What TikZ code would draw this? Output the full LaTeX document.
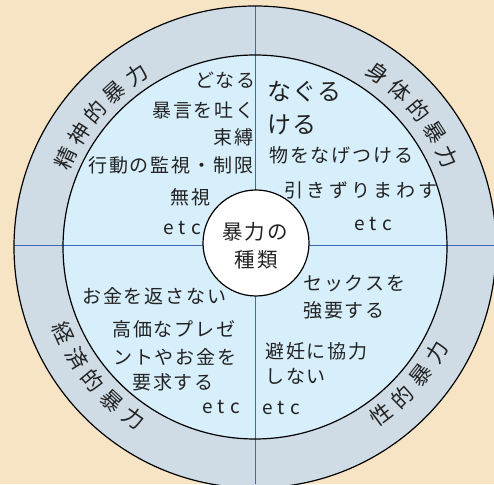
\documentclass[tikz,border=0pt]{standalone}
\usepackage{fontspec}
\newfontfamily\jpa{Noto Sans CJK JP}[LetterSpace=10]
\newfontfamily\jpc{Noto Sans CJK JP}[LetterSpace=18]
\newfontfamily\jpb{Noto Sans CJK JP}[LetterSpace=5]
\newfontfamily\jpe{Noto Sans CJK JP}[LetterSpace=28]
\newfontfamily\jpr{Noto Sans CJK JP}
\definecolor{bgc}{HTML}{F7E4C4}
\definecolor{ringc}{HTML}{CFDCE5}
\definecolor{innerc}{HTML}{D7EEFB}
\definecolor{bluel}{HTML}{3C68B8}
\definecolor{ink}{HTML}{222222}
\begin{document}
\begin{tikzpicture}[x=1pt,y=1pt,
  txt/.style={font=\jpa\fontsize{19}{19}\selectfont, text=ink, inner sep=0pt, anchor=west},
  wide/.style={txt, font=\jpc\fontsize{19}{19}\selectfont},
  big/.style={txt, font=\jpb\fontsize{24}{24}\selectfont},
  etct/.style={txt, font=\jpe\fontsize{19}{19}\selectfont},
  hubt/.style={txt, anchor=center, font=\jpa\fontsize{20.5}{20.5}\selectfont},
  ringlbl/.style={font=\jpr\fontsize{21.5}{21.5}\selectfont, text=ink, inner sep=0pt},
  edge/.style={draw=black, line width=1.2pt},
  blueline/.style={draw=bluel, line width=1pt}]
\useasboundingbox (0,0) rectangle (494,484);
\fill[bgc] (0,0) rectangle (494,484);
\coordinate (C) at (255,237);
\fill[ringc] (C) circle[radius=241];
\fill[innerc] (C) circle[radius=192];
\begin{scope}
  \clip (C) circle[radius=241];
  \draw[blueline] (255.5,0) -- (255.5,484);
  \draw[blueline] (0,238) -- (494,238);
\end{scope}
\draw[edge] (C) circle[radius=241];
\draw[edge] (C) circle[radius=192];
\node[circle, fill=white, draw=black, line width=1.2pt, minimum size=106pt, inner sep=0pt] (hub) at (256,241) {};
\node[hubt] (h1) at (255,252) {暴力の};
\node[hubt] (h2) at (256,224) {種類};
% top-left
\node[txt] (a1) at (195,404) {どなる};
\node[txt] (a2) at (152,374) {暴言を吐く};
\node[txt] (a3) at (213,347) {束縛};
\node[txt] (a4) at (88,319) {行動の監視・制限};
\node[txt] (a5) at (170,287) {無視};
\node[etct] (a6) at (163,256) {etc};
% top-right
\node[big] (b1) at (267,392) {なぐる};
\node[big] (b2) at (267,359) {ける};
\node[txt] (b3) at (269,329) {物をなげつける};
\node[wide] (b4) at (284,294) {引きずりまわす};
\node[etct] (b5) at (354,260) {etc};
% bottom-left
\node[txt] (c1) at (82,188) {お金を返さない};
\node[txt] (c2) at (112,155) {高価なプレゼ};
\node[txt] (c3) at (113,127) {ントやお金を};
\node[txt] (c4) at (132,102) {要求する};
\node[etct] (c5) at (202,77) {etc};
% bottom-right
\node[txt] (d1) at (303,200) {セックスを};
\node[txt] (d2) at (303,174) {強要する};
\node[txt] (d3) at (265,133) {避妊に協力};
\node[txt] (d4) at (265,108) {しない};
\node[etct] (d5) at (262,76) {etc};
% ring labels
\begin{scope}[shift={(C)}]
  \foreach \ch [count=\i] in {精,神,的,暴,力}
    \node[ringlbl, rotate={155-7.6*(\i-1)-90}] (p\i) at ({155-7.6*(\i-1)}:209) {\ch};
  \foreach \ch [count=\i] in {身,体,的,暴,力}
    \node[ringlbl, rotate={54.7-7.4*(\i-1)-90}] (q\i) at ({54.7-7.4*(\i-1)}:213) {\ch};
  \foreach \ch [count=\i] in {経,済,的,暴,力}
    \node[ringlbl, rotate={204.3+7.6*(\i-1)+90}] (r\i) at ({204.3+7.6*(\i-1)}:210) {\ch};
  \foreach \ch [count=\i] in {性,的,暴,力}
    \node[ringlbl, rotate={-53+7.6*(\i-1)+90}] (s\i) at ({-53+7.6*(\i-1)}:210) {\ch};
\end{scope}
\end{tikzpicture}
\end{document}
